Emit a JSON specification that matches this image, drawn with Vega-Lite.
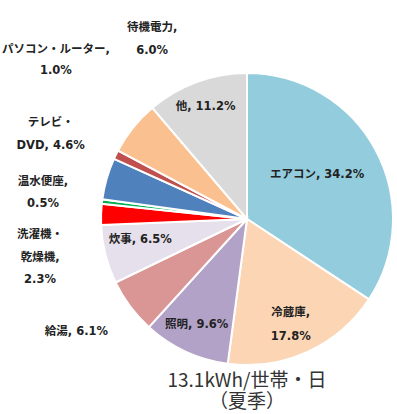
{
  "$schema": "https://vega.github.io/schema/vega-lite/v6.json",
  "width": 292,
  "height": 292,
  "autosize": {"type": "none"},
  "padding": {"left": 101, "top": 73, "right": 4, "bottom": 49},
  "background": "white",
  "view": {"stroke": null},
  "title": {
    "text": ["13.1kWh/世帯・日", "（夏季）"],
    "orient": "bottom",
    "anchor": "middle",
    "baseline": "top",
    "font": "Noto Sans CJK JP",
    "fontSize": 19,
    "fontWeight": "normal",
    "color": "#333333",
    "lineHeight": 21,
    "offset": 3
  },
  "data": {
    "values": [
      {"idx": 1, "cat": "エアコン", "value": 34.2, "label": "エアコン, 34.2%"},
      {"idx": 2, "cat": "冷蔵庫", "value": 17.8, "label": "冷蔵庫,\n17.8%"},
      {"idx": 3, "cat": "照明", "value": 9.6, "label": "照明, 9.6%"},
      {"idx": 4, "cat": "給湯", "value": 6.1, "label": "給湯, 6.1%"},
      {"idx": 5, "cat": "炊事", "value": 6.5, "label": "炊事, 6.5%"},
      {"idx": 6, "cat": "洗濯機・乾燥機", "value": 2.3, "label": "洗濯機・\n乾燥機,\n2.3%"},
      {"idx": 7, "cat": "温水便座", "value": 0.5, "label": "温水便座,\n0.5%"},
      {"idx": 8, "cat": "テレビ・DVD", "value": 4.6, "label": "テレビ・\nDVD, 4.6%"},
      {"idx": 9, "cat": "パソコン・ルーター", "value": 1.0, "label": "パソコン・ルーター,\n1.0%"},
      {"idx": 10, "cat": "待機電力", "value": 6.0, "label": "待機電力,\n6.0%"},
      {"idx": 11, "cat": "他", "value": 11.2, "label": "他, 11.2%"}
    ]
  },
  "transform": [
    {"stack": "value", "groupby": [], "offset": "normalize", "sort": [{"field": "idx", "order": "ascending"}], "as": ["v0", "v1"]},
    {"calculate": "(datum.v0 + datum.v1) / 2", "as": "mid"}
  ],
  "encoding": {
    "theta": {"field": "mid", "type": "quantitative", "scale": {"domain": [0, 1]}}
  },
  "layer": [
    {
      "mark": {"type": "arc", "outerRadius": 146, "stroke": "white", "strokeWidth": 2},
      "encoding": {
        "theta": {"field": "v0", "type": "quantitative", "scale": {"domain": [0, 1]}},
        "theta2": {"field": "v1"},
        "color": {
          "field": "cat",
          "type": "nominal",
          "scale": {
            "domain": ["エアコン", "冷蔵庫", "照明", "給湯", "炊事", "洗濯機・乾燥機", "温水便座", "テレビ・DVD", "パソコン・ルーター", "待機電力", "他"],
            "range": ["#93CDDD", "#FCD5B5", "#B3A2C7", "#D99694", "#E6E0EC", "#FF0000", "#00B050", "#4F81BD", "#C0504D", "#FAC090", "#D9D9D9"]
          },
          "legend": null
        }
      }
    },
    {
      "transform": [{"filter": "datum.idx === 1"}],
      "mark": {"type": "text", "radius": 83, "dx": -3, "dy": -5, "align": "center", "baseline": "middle", "font": "DejaVu Sans, Noto Sans CJK JP", "fontWeight": "bold", "fontSize": 11.5, "color": "#222222", "lineBreak": "\n", "lineHeight": 23},
      "encoding": {"text": {"field": "label"}}
    },
    {
      "transform": [{"filter": "datum.idx === 2"}],
      "mark": {"type": "text", "radius": 115, "dx": -4, "dy": -11, "align": "center", "baseline": "middle", "font": "DejaVu Sans, Noto Sans CJK JP", "fontWeight": "bold", "fontSize": 11.5, "color": "#222222", "lineBreak": "\n", "lineHeight": 24},
      "encoding": {"text": {"field": "label"}}
    },
    {
      "transform": [{"filter": "datum.idx === 3"}],
      "mark": {"type": "text", "radius": 117, "dx": -1, "dy": 0, "align": "center", "baseline": "middle", "font": "DejaVu Sans, Noto Sans CJK JP", "fontWeight": "bold", "fontSize": 11.5, "color": "#222222", "lineBreak": "\n", "lineHeight": 23},
      "encoding": {"text": {"field": "label"}}
    },
    {
      "transform": [{"filter": "datum.idx === 4"}],
      "mark": {"type": "text", "radius": 146, "dx": -22, "dy": 26, "align": "right", "baseline": "middle", "font": "DejaVu Sans, Noto Sans CJK JP", "fontWeight": "bold", "fontSize": 11.5, "color": "#222222", "lineBreak": "\n", "lineHeight": 23},
      "encoding": {"text": {"field": "label"}}
    },
    {
      "transform": [{"filter": "datum.idx === 5"}],
      "mark": {"type": "text", "radius": 109, "dx": -1, "dy": -5, "align": "center", "baseline": "middle", "font": "DejaVu Sans, Noto Sans CJK JP", "fontWeight": "bold", "fontSize": 11.5, "color": "#222222", "lineBreak": "\n", "lineHeight": 23},
      "encoding": {"text": {"field": "label"}}
    },
    {
      "transform": [{"filter": "datum.idx === 6"}],
      "mark": {"type": "text", "radius": 146, "dx": -61, "dy": 21, "align": "center", "baseline": "middle", "font": "DejaVu Sans, Noto Sans CJK JP", "fontWeight": "bold", "fontSize": 11.5, "color": "#222222", "lineBreak": "\n", "lineHeight": 22.5},
      "encoding": {"text": {"field": "label"}}
    },
    {
      "transform": [{"filter": "datum.idx === 7"}],
      "mark": {"type": "text", "radius": 146, "dx": -59, "dy": -20, "align": "center", "baseline": "middle", "font": "DejaVu Sans, Noto Sans CJK JP", "fontWeight": "bold", "fontSize": 11.5, "color": "#222222", "lineBreak": "\n", "lineHeight": 22},
      "encoding": {"text": {"field": "label"}}
    },
    {
      "transform": [{"filter": "datum.idx === 8"}],
      "mark": {"type": "text", "radius": 146, "dx": -56, "dy": -56, "align": "center", "baseline": "middle", "font": "DejaVu Sans, Noto Sans CJK JP", "fontWeight": "bold", "fontSize": 11.5, "color": "#222222", "lineBreak": "\n", "lineHeight": 23},
      "encoding": {"text": {"field": "label"}}
    },
    {
      "transform": [{"filter": "datum.idx === 9"}],
      "mark": {"type": "text", "radius": 146, "dx": -60, "dy": -105, "align": "center", "baseline": "middle", "font": "DejaVu Sans, Noto Sans CJK JP", "fontWeight": "bold", "fontSize": 11.5, "color": "#222222", "lineBreak": "\n", "lineHeight": 21},
      "encoding": {"text": {"field": "label"}}
    },
    {
      "transform": [{"filter": "datum.idx === 10"}],
      "mark": {"type": "text", "radius": 146, "dx": 19, "dy": -100, "align": "center", "baseline": "middle", "font": "DejaVu Sans, Noto Sans CJK JP", "fontWeight": "bold", "fontSize": 11.5, "color": "#222222", "lineBreak": "\n", "lineHeight": 23},
      "encoding": {"text": {"field": "label"}}
    },
    {
      "transform": [{"filter": "datum.idx === 11"}],
      "mark": {"type": "text", "radius": 120, "dx": 0, "dy": 1, "align": "center", "baseline": "middle", "font": "DejaVu Sans, Noto Sans CJK JP", "fontWeight": "bold", "fontSize": 11.5, "color": "#222222", "lineBreak": "\n", "lineHeight": 23},
      "encoding": {"text": {"field": "label"}}
    }
  ]
}
